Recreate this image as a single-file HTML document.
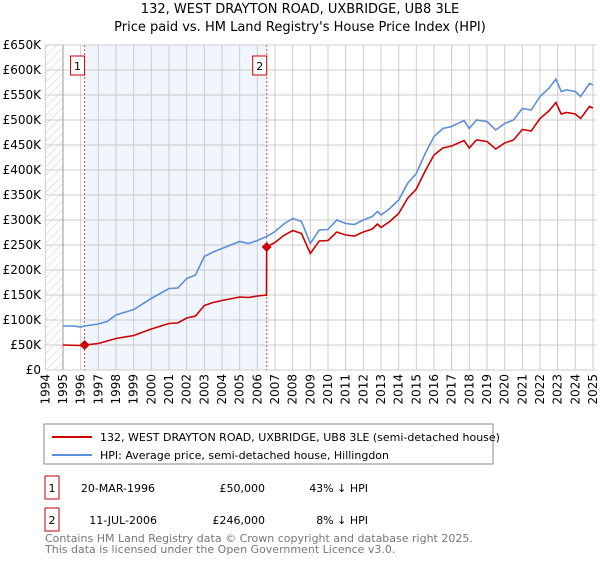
<!DOCTYPE html>
<html><head><meta charset="utf-8"><style>
body{margin:0;background:#fff;font-family:"Liberation Sans","DejaVu Sans",sans-serif;}
svg text{font-family:"DejaVu Sans","Liberation Sans",sans-serif;}
</style></head><body>
<svg id="chart" width="600" height="560" viewBox="0 0 600 560">
<defs><pattern id="hatch" width="6" height="6" patternUnits="userSpaceOnUse" patternTransform="rotate(45)"><line x1="0" y1="0" x2="0" y2="6" stroke="#ccc" stroke-width="1"/></pattern></defs>
<text x="300" y="13" text-anchor="middle" font-size="13" fill="#000">132, WEST DRAYTON ROAD, UXBRIDGE, UB8 3LE</text>
<text x="300" y="31" text-anchor="middle" font-size="13" fill="#000">Price paid vs. HM Land Registry's House Price Index (HPI)</text>
<g id="plot"></g>
<rect x="44" y="424" width="449" height="40" fill="#fff" stroke="#888"/>
<line x1="52" y1="437" x2="92" y2="437" stroke="#cc0000" stroke-width="2"/>
<text x="100" y="441" font-size="11">132, WEST DRAYTON ROAD, UXBRIDGE, UB8 3LE (semi-detached house)</text>
<line x1="52" y1="455" x2="92" y2="455" stroke="#5b8fd6" stroke-width="2"/>
<text x="100" y="459" font-size="11">HPI: Average price, semi-detached house, Hillingdon</text>
<g>
<rect x="45" y="476" width="14" height="23" fill="#fff" stroke="#cc0000"/>
<text x="52" y="492" font-size="11" text-anchor="middle">1</text>
<text x="155" y="492" font-size="11" text-anchor="end">20-MAR-1996</text>
<text x="265" y="492" font-size="11" text-anchor="end">£50,000</text>
<text x="368" y="492" font-size="11" text-anchor="end">43% ↓ HPI</text>
</g>
<g>
<rect x="45" y="508" width="14" height="23" fill="#fff" stroke="#cc0000"/>
<text x="52" y="524" font-size="11" text-anchor="middle">2</text>
<text x="157" y="524" font-size="11" text-anchor="end">11-JUL-2006</text>
<text x="265" y="524" font-size="11" text-anchor="end">£246,000</text>
<text x="368" y="524" font-size="11" text-anchor="end">8% ↓ HPI</text>
</g>
<text x="45" y="542" font-size="11" fill="#777">Contains HM Land Registry data © Crown copyright and database right 2025.</text>
<text x="45" y="553" font-size="11" fill="#777">This data is licensed under the Open Government Licence v3.0.</text>
</svg>
<script>
const hpiYears=[1995,1995.6,1996,1996.22,1997,1997.5,1998,1999,2000,2001,2001.5,2002,2002.5,2003,2003.5,2004,2005,2005.5,2006,2006.53,2007,2007.5,2008,2008.5,2009,2009.5,2010,2010.5,2011,2011.5,2012,2012.5,2012.8,2013,2013.5,2014,2014.5,2015,2015.5,2016,2016.5,2017,2017.7,2018,2018.4,2019,2019.5,2020,2020.5,2021,2021.5,2022,2022.5,2022.9,2023.2,2023.5,2024,2024.3,2024.8,2025];
const hpiValues=[88,88,86,88,92,97,110,121,143,163,164,183,190,227,236,243,257,253,259,267,277,292,303,297,253,280,281,300,293,291,300,307,317,310,323,340,373,393,433,467,483,487,499,483,500,497,480,493,500,523,520,547,563,582,557,560,557,547,573,570];
const redYears=[1995,1996,1996.22,1997,1998,1999,2000,2001,2001.5,2002,2002.5,2003,2003.5,2004,2005,2005.5,2006,2006.52,2006.53,2007,2007.5,2008,2008.5,2009,2009.5,2010,2010.5,2011,2011.5,2012,2012.5,2012.8,2013,2013.5,2014,2014.5,2015,2015.5,2016,2016.5,2017,2017.7,2018,2018.4,2019,2019.5,2020,2020.5,2021,2021.5,2022,2022.5,2022.9,2023.2,2023.5,2024,2024.3,2024.8,2025];
const redValues=[50,49,50,53,63,69,82,93,94,104,108,129,135,139,146,145,148,150,246,255,269,279,273,233,258,259,276,270,268,276,282,292,285,297,313,343,362,398,430,444,448,459,444,460,457,442,454,460,481,478,503,518,535,512,515,512,503,527,524];
const saleYears=[1996.22,2006.53];
const saleValues=[50,246];
const saleLabels=["1","2"];
const yTicks=[0,50,100,150,200,250,300,350,400,450,500,550,600,650];
const xTicks=[1994,1995,1996,1997,1998,1999,2000,2001,2002,2003,2004,2005,2006,2007,2008,2009,2010,2011,2012,2013,2014,2015,2016,2017,2018,2019,2020,2021,2022,2023,2024,2025];
const NS="http://www.w3.org/2000/svg";
const X=y=>63+(y-1995)*17.667;
const Y=v=>370-v*0.5;
const g=document.getElementById('plot');
function mk(t,a){const e=document.createElementNS(NS,t);for(const k in a)e.setAttribute(k,a[k]);g.appendChild(e);return e;}
let e;
e=mk('rect',{x:X(1994),y:Y(650),width:X(2025.2)-X(1994),height:Y(0)-Y(650),fill:'#fff'});


e=mk('rect',{x:X(1994),y:Y(650),width:X(1995)-X(1994),height:Y(0)-Y(650),fill:'url(#hatch)'});


e=mk('rect',{x:X(saleYears[0]),y:Y(650),width:X(saleYears[1])-X(saleYears[0]),height:Y(0)-Y(650),fill:'#eef3fc',opacity:0.8});


yTicks.forEach(v=>{
 e=mk('line',{x1:X(1994),x2:X(2025.2),y1:Y(v),y2:Y(v),stroke:'#ccc','stroke-width':1});
 
 
 e=mk('text',{x:41,y:Y(v)+4,'text-anchor':'end','font-size':12});
 e.textContent=v===0?'£0':'£'+v+'K';
 
 
});
xTicks.forEach(yr=>{
 e=mk('line',{x1:X(yr),x2:X(yr),y1:Y(650),y2:Y(0),stroke:'#ccc','stroke-width':1});
 
 
 e=mk('text',{x:0,y:0,'text-anchor':'end','font-size':12,transform:`translate(${X(yr)+4},374) rotate(-90)`});
 e.textContent=yr;
 
 
});
e=mk('line',{x1:X(1995),x2:X(1995),y1:Y(650),y2:Y(0),stroke:'#999'});


saleYears.forEach((yr,i)=>{
 e=mk('line',{x1:X(yr),x2:X(yr),y1:Y(650),y2:Y(0),stroke:'#e55','stroke-dasharray':'2,2'});
 
 
 e=mk('rect',{x:X(yr)-14,y:Y(622)-3,width:14,height:19,fill:'#fff',stroke:'#cc0000'});
 
 
 e=mk('text',{x:X(yr)-7,y:Y(622)+11,'text-anchor':'middle','font-size':11});
 e.textContent=saleLabels[i];
 
 
});
const pts=(xs,vs)=>xs.map((x,i)=>X(x).toFixed(1)+','+Y(vs[i]).toFixed(1)).join(' ');
e=mk('polyline',{points:pts(hpiYears,hpiValues),fill:'none',stroke:'#5b8fd6','stroke-width':1.6});


e=mk('polyline',{points:pts(redYears,redValues),fill:'none',stroke:'#cc0000','stroke-width':1.6});


saleYears.forEach((yr,i)=>{
 const cx=X(yr),cy=Y(saleValues[i]);
 e=mk('polygon',{points:`${cx},${cy-5} ${cx+5},${cy} ${cx},${cy+5} ${cx-5},${cy}`,fill:'#cc0000'});
 
 
});
</script>
</body></html>
